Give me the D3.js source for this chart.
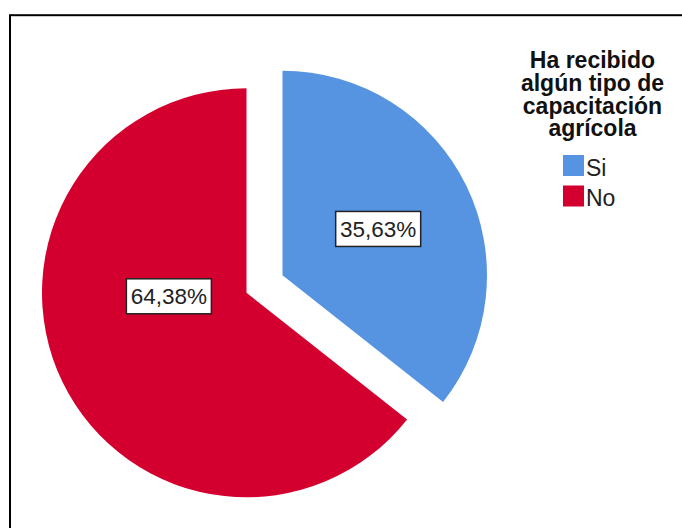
<!DOCTYPE html>
<html>
<head>
<meta charset="utf-8">
<script src="https://cdn.jsdelivr.net/npm/d3@7/dist/d3.min.js"></script>
<style>
  html, body { margin: 0; padding: 0; background: #fff; }
  svg { display: block; font-family: "Liberation Sans", Arial, sans-serif; }
</style>
</head>
<body>
<svg id="chart" width="682" height="528"></svg>
<script>
// Data
const categories = ["Si", "No"];
const percentages = [35.63, 64.38];
const labelTexts = ["35,63%", "64,38%"];
const legendTitle = ["Ha recibido", "algún tipo de", "capacitación", "agrícola"];

// Styling / layout
const colors = ["#5694e2", "#d3002f"];
const center = { x: 246.5, y: 292.8 };
const radius = 204.5;
const explode = [40, 0];               // offset of each slice along its mid-angle
const labelRadiusFrac = [0.52, 0.38];  // label distance from slice centre, as share of radius
const labelAngleShift = [0, 23.3];     // degrees added to the mid-angle for label placement

const svg = d3.select("#chart");

// Outer frame
svg.append("rect")
  .attr("x", 10).attr("y", 15.2)
  .attr("width", 700).attr("height", 560)
  .attr("fill", "#fff")
  .attr("stroke", "#000")
  .attr("stroke-width", 2);

const pie = d3.pie().sort(null).startAngle(0).endAngle(2 * Math.PI);
const arcs = pie(percentages);
const arc = d3.arc().innerRadius(0).outerRadius(radius);

const g = svg.append("g").attr("transform", `translate(${center.x},${center.y})`);

const slices = g.selectAll("g.slice")
  .data(arcs)
  .join("g")
  .attr("class", "slice")
  .attr("transform", (d, i) => {
    const mid = (d.startAngle + d.endAngle) / 2;
    return `translate(${Math.sin(mid) * explode[i]},${-Math.cos(mid) * explode[i]})`;
  });

slices.append("path")
  .attr("d", arc)
  .attr("fill", (d, i) => colors[i]);

// Value labels in boxes
slices.each(function (d, i) {
  const mid = (d.startAngle + d.endAngle) / 2 + labelAngleShift[i] * Math.PI / 180;
  const r = radius * labelRadiusFrac[i];
  const lx = Math.sin(mid) * r, ly = -Math.cos(mid) * r;
  const lg = d3.select(this).append("g").attr("transform", `translate(${lx},${ly})`);
  lg.append("rect")
    .attr("x", -42.5).attr("y", -17.5)
    .attr("width", 85).attr("height", 35)
    .attr("fill", "#fff")
    .attr("stroke", "#222")
    .attr("stroke-width", 1.5);
  lg.append("text")
    .attr("text-anchor", "middle")
    .attr("dy", "0.36em")
    .attr("font-size", 22.5)
    .attr("fill", "#222")
    .text(labelTexts[i]);
});

// Legend title (one text block, one line per tspan)
const legend = svg.append("g");
legend.append("text")
  .attr("text-anchor", "middle")
  .attr("font-size", 23)
  .attr("font-weight", "bold")
  .attr("fill", "#111")
  .selectAll("tspan")
  .data(legendTitle)
  .join("tspan")
  .attr("x", 592.5)
  .attr("y", (d, i) => 68 + i * 22.8)
  .text(d => d);

const items = legend.selectAll("g.item")
  .data(categories)
  .join("g")
  .attr("class", "item")
  .attr("transform", (d, i) => `translate(563,${155 + i * 30.5})`);

items.append("rect")
  .attr("width", 21).attr("height", 21)
  .attr("fill", (d, i) => colors[i]);

items.append("text")
  .attr("x", 23)
  .attr("y", 20.5)
  .attr("font-size", 23)
  .attr("fill", "#222")
  .text(d => d);
</script>
</body>
</html>
